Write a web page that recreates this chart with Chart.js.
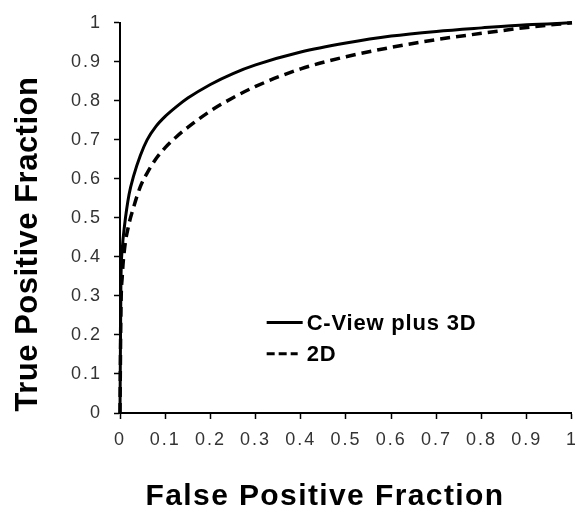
<!DOCTYPE html>
<html>
<head>
<meta charset="utf-8">
<script src="https://cdn.jsdelivr.net/npm/chart.js@4"></script>
<style>
  html, body { margin: 0; padding: 0; background: #fff; overflow: hidden; }
  #wrap { position: relative; width: 588px; height: 512px; }
</style>
</head>
<body>
<div id="wrap"><canvas id="roc"></canvas></div>
<script>
// ROC curves
const fpr = [0, 0.002, 0.005, 0.01, 0.02, 0.03, 0.045, 0.06, 0.08, 0.1, 0.125, 0.15, 0.2, 0.25, 0.3, 0.4, 0.5, 0.6, 0.7, 0.8, 0.9, 1.0];
const cviewTpf = [0, 0.33, 0.42, 0.48, 0.56, 0.607, 0.66, 0.70, 0.735, 0.76, 0.785, 0.807, 0.842, 0.87, 0.892, 0.925, 0.948, 0.966, 0.978, 0.987, 0.995, 1.0];
const twoDTpf = [0, 0.26, 0.35, 0.42, 0.485, 0.527, 0.58, 0.615, 0.652, 0.68, 0.708, 0.732, 0.774, 0.808, 0.837, 0.882, 0.913, 0.937, 0.957, 0.973, 0.988, 1.0];

const seriesNames = ["C-View plus 3D", "2D"];
const tickValues = [0, 0.1, 0.2, 0.3, 0.4, 0.5, 0.6, 0.7, 0.8, 0.9, 1];
const tickLabels = ["0", "0.1", "0.2", "0.3", "0.4", "0.5", "0.6", "0.7", "0.8", "0.9", "1"];
const xTitle = "False Positive Fraction";
const yTitle = "True Positive Fraction";

const tickFont = { family: "Arial, 'Liberation Sans', sans-serif", size: 18 };

function points(ys) {
  return fpr.map((x, i) => ({ x: x, y: ys[i] }));
}

// the tick labels in the figure are spaced out a little
const spacing = {
  id: "spacing",
  beforeLayout(chart) { chart.ctx.letterSpacing = "2px"; },
  beforeDraw(chart) { chart.ctx.letterSpacing = "2px"; }
};

// titles and the in-plot legend
const overlay = {
  id: "overlay",
  afterDraw(chart) {
    const ctx = chart.ctx;
    const x = chart.scales.x, y = chart.scales.y;
    ctx.save();
    ctx.fillStyle = "#000";
    ctx.font = "bold 30px Arial, 'Liberation Sans', sans-serif";
    ctx.textAlign = "center";
    ctx.textBaseline = "alphabetic";
    ctx.letterSpacing = "1.4px";
    ctx.fillText(xTitle, 325, 505);
    ctx.font = "bold 31px Arial, 'Liberation Sans', sans-serif";
    ctx.letterSpacing = "0.5px";
    ctx.save();
    ctx.translate(37, 244);
    ctx.rotate(-Math.PI / 2);
    ctx.fillText(yTitle, 0, 0);
    ctx.restore();

    // legend
    const lx = x.getPixelForValue(0.3245);
    const rows = [y.getPixelForValue(0.232), y.getPixelForValue(0.152)];
    ctx.strokeStyle = "#000";
    ctx.lineWidth = 3;
    ctx.font = "bold 22px Arial, 'Liberation Sans', sans-serif";
    ctx.letterSpacing = "0.8px";
    ctx.textAlign = "left";
    ctx.textBaseline = "middle";
    rows.forEach((ry, i) => {
      ctx.setLineDash(i === 0 ? [] : [8, 4]);
      ctx.beginPath();
      ctx.moveTo(lx, ry);
      ctx.lineTo(lx + (i === 0 ? 36 : 31), ry);
      ctx.stroke();
      ctx.fillText(seriesNames[i], lx + 40, ry + 1);
    });
    ctx.restore();
  }
};

new Chart(document.getElementById("roc"), {
  type: "scatter",
  data: {
    datasets: [
      {
        label: seriesNames[0],
        data: points(cviewTpf),
        showLine: true,
        borderColor: "#000",
        borderWidth: 3,
        pointRadius: 0,
        cubicInterpolationMode: "monotone",
        clip: 6
      },
      {
        label: seriesNames[1],
        data: points(twoDTpf),
        showLine: true,
        borderColor: "#000",
        borderWidth: 3.5,
        borderDash: [10, 6],
        pointRadius: 0,
        cubicInterpolationMode: "monotone",
        clip: 6
      }
    ]
  },
  options: {
    responsive: true,
    maintainAspectRatio: false,
    animation: false,
    layout: { padding: { top: 16, right: 0, bottom: 0, left: 0 } },
    plugins: {
      legend: { display: false },
      tooltip: { enabled: false }
    },
    scales: {
      x: {
        type: "linear",
        min: 0,
        max: 1,
        afterBuildTicks: s => { s.ticks = tickValues.map(v => ({ value: v })); },
        afterFit: s => { s.height = 99; },
        ticks: {
          font: tickFont,
          color: "#333",
          padding: 10,
          maxRotation: 0,
          autoSkip: false,
          callback: (v, i) => tickLabels[i]
        },
        grid: { drawOnChartArea: false, tickLength: 6, tickColor: "#000", tickWidth: 1.5 },
        border: { color: "#000", width: 2 }
      },
      y: {
        type: "linear",
        min: 0,
        max: 1,
        afterBuildTicks: s => { s.ticks = tickValues.map(v => ({ value: v })); },
        afterFit: s => { s.width = 120; },
        ticks: {
          font: tickFont,
          color: "#333",
          padding: 12,
          autoSkip: false,
          callback: (v, i) => tickLabels[i]
        },
        grid: { drawOnChartArea: false, tickLength: 6, tickColor: "#000", tickWidth: 1.5 },
        border: { color: "#000", width: 2 }
      }
    }
  },
  plugins: [spacing, overlay]
});
</script>
</body>
</html>
